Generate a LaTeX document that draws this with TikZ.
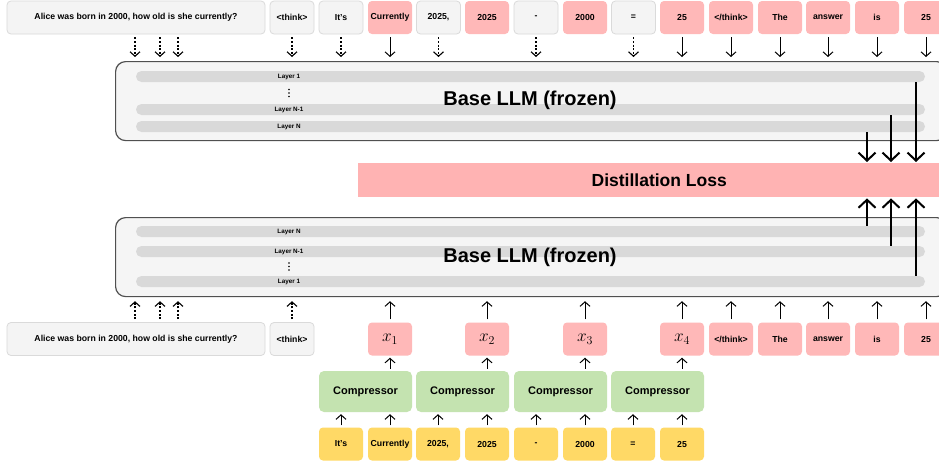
\documentclass[tikz,border=0pt]{standalone}
\usepackage[no-math]{fontspec}
\setmainfont{Liberation Sans}
\usetikzlibrary{positioning}
\usetikzlibrary{arrows.meta}

\definecolor{tokgray}{HTML}{F4F4F4}
\definecolor{tokedge}{HTML}{DADADA}
\definecolor{tokpink}{HTML}{FFB8B8}
\definecolor{tokyellow}{HTML}{FFD966}
\definecolor{compgreen}{HTML}{C4E3B0}
\definecolor{llmfill}{HTML}{F5F5F5}
\definecolor{llmedge}{HTML}{505050}
\definecolor{barfill}{HTML}{D9D9D9}
\definecolor{losspink}{HTML}{FFB3B3}

\tikzset{
	tok/.style={rounded corners=4pt, minimum width=44pt, minimum height=33pt, inner sep=0pt, font=\bfseries\fontsize{8.7}{10}\selectfont},
	greytok/.style={tok, fill=tokgray, draw=tokedge, line width=0.8pt},
	pinktok/.style={tok, fill=tokpink},
	seedtok/.style={tok, fill=tokyellow},
	xtok/.style={pinktok, font=\fontsize{17}{19}\selectfont},
	comp/.style={rounded corners=5pt, fill=compgreen, minimum width=93pt, minimum height=41pt, inner sep=0pt, font=\bfseries\fontsize{11}{13}\selectfont},
	llm/.style={rounded corners=10pt, fill=llmfill, draw=llmedge, line width=1.2pt, minimum width=831pt, minimum height=79pt, anchor=north west},
	layerbar/.style={rounded corners=5.5pt, fill=barfill, minimum width=789pt, minimum height=11pt, inner sep=0pt},
	layertxt/.style={inner sep=0pt, font=\bfseries\fontsize{6.3}{7}\selectfont},
	llmtxt/.style={font=\bfseries\fontsize{20}{24}\selectfont},
	arr/.style={->, line width=1pt},
	dasharr/.style={->, line width=1.1pt, dash pattern=on 2pt off 1.6pt},
	lossarr/.style={-{Straight Barb[length=8pt,width=17pt,line width=2pt]}, line width=2pt}
}

\begin{document}
\begin{tikzpicture}[x=1pt, y=-1pt, >={Straight Barb[length=4.5pt,width=10pt]}]
	\useasboundingbox (0,0) rectangle (939,463);
	\fill[white] (0,0) rectangle (939,463);
	\clip (0,0) rectangle (939,463);

	% teacher tokens
	\node[greytok, minimum width=258pt] (qA) at (136,17.5) {Alice was born in 2000, how old is she currently?};
	\node[greytok] (thA) at (292,17.5) {<think>};
	\foreach \n/\x/\s/\t in {a1/341/greytok/It's, a2/390/pinktok/Currently, a3/438.5/greytok/{2025,}, a4/487/pinktok/2025, a5/536/greytok/-, a6/585/pinktok/2000, a7/633.5/greytok/=, a8/682/pinktok/25, a9/731/pinktok/{</think>}, a10/780/pinktok/The, a11/828/pinktok/answer, a12/877/pinktok/is, a13/926/pinktok/25}
		\node[\s] (\n) at (\x,17.5) {\t};

	% teacher model
	\node[llm] (llmA) at (115,61) {};
	\node[layerbar] (lA1) at (530.5,76.5) {};
	\node[layerbar] (lAM) at (530.5,109.5) {};
	\node[layerbar] (lAN) at (530.5,126.5) {};
	\node[layertxt] (tA1) at (289,76.5) {Layer 1};
	\node[layertxt] (tAM) at (289,109.5) {Layer N-1};
	\node[layertxt] (tAN) at (289,126.5) {Layer N};
	\foreach \k in {-3.5,0,3.5}
		\fill (289,93+\k) circle (0.9pt);
	\node[llmtxt] (nA) at (530,100) {Base LLM (frozen)};

	\foreach \d in {-1,24,42}
		\draw[dasharr, shorten <=3pt, shorten >=4pt] ([xshift=\d pt]qA.south) -- ([xshift=\d pt]qA.south |- llmA.north);
	\foreach \n in {thA,a1,a3,a5,a7}
		\draw[dasharr, shorten <=3pt, shorten >=4pt] (\n.south) -- (\n.south |- llmA.north);
	\foreach \n in {a2,a8,a9,a10,a11,a12,a13}
		\draw[arr, shorten <=3pt, shorten >=4pt] (\n.south) -- (\n.south |- llmA.north);

	% loss
	\node[fill=losspink, minimum width=602pt, minimum height=34pt, anchor=north west, font=\bfseries\fontsize{17.5}{20}\selectfont] (loss) at (358,163) {Distillation Loss};

	% student model
	\node[llm] (llmB) at (115,217) {};
	\node[layerbar] (lBN) at (530.5,231.5) {};
	\node[layerbar] (lBM) at (530.5,251.5) {};
	\node[layerbar] (lB1) at (530.5,281.5) {};
	\node[layertxt] (tBN) at (289,231.5) {Layer N};
	\node[layertxt] (tBM) at (289,251.5) {Layer N-1};
	\node[layertxt] (tB1) at (289,281.5) {Layer 1};
	\foreach \k in {-3.5,0,3.5}
		\fill (289,266.5+\k) circle (0.9pt);
	\node[llmtxt] (nB) at (530,257) {Base LLM (frozen)};

	\coordinate (kN) at (867,0);
	\coordinate (kM) at (891,0);
	\coordinate (k1) at (916,0);
	\draw[lossarr, shorten >=1pt] (lAN.south -| kN) -- (loss.north -| kN);
	\draw[lossarr, shorten >=1pt] (lAM.south -| kM) -- (loss.north -| kM);
	\draw[lossarr, shorten >=1pt] (lA1.south -| k1) -- (loss.north -| k1);
	\draw[lossarr, shorten >=1pt] (lBN.north -| kN) -- (loss.south -| kN);
	\draw[lossarr, shorten >=1pt] (lBM.north -| kM) -- (loss.south -| kM);
	\draw[lossarr, shorten >=1pt] (lB1.north -| k1) -- (loss.south -| k1);

	% student tokens
	\node[greytok, minimum width=258pt] (qB) at (136,339) {Alice was born in 2000, how old is she currently?};
	\node[greytok] (thB) at (292,339) {<think>};
	\foreach \n/\x/\i in {x1/390/1, x2/487/2, x3/585/3, x4/682/4}
		\node[xtok] (\n) at (\x,339) {$x_\i$};
	\foreach \n/\x/\t in {b9/731/{</think>}, b10/780/The, b11/828/answer, b12/877/is, b13/926/25}
		\node[pinktok] (\n) at (\x,339) {\t};

	\foreach \d in {-1,24,42}
		\draw[dasharr, shorten <=3pt, shorten >=4pt] ([xshift=\d pt]qB.north) -- ([xshift=\d pt]qB.north |- llmB.south);
	\draw[dasharr, shorten <=3pt, shorten >=4pt] (thB.north) -- (thB.north |- llmB.south);
	\foreach \n in {x1,x2,x3,x4,b9,b10,b11,b12,b13}
		\draw[arr, shorten <=3pt, shorten >=4pt] (\n.north) -- (\n.north |- llmB.south);

	% compressors
	\foreach \n/\x in {c1/365.5, c2/462.5, c3/560.5, c4/657.5}
		\node[comp] (\n) at (\x,391.5) {Compressor};
	\foreach \n/\x/\t in {s1/341/It's, s2/390/Currently, s3/438/{2025,}, s4/487/2025, s5/536/-, s6/585/2000, s7/633/=, s8/682/25}
		\node[seedtok] (\n) at (\x,444) {\t};

	\foreach \s/\c in {s1/c1, s2/c1, s3/c2, s4/c2, s5/c3, s6/c3, s7/c4, s8/c4}
		\draw[arr, shorten <=2pt, shorten >=2pt] (\s.north) -- (\s.north |- \c.south);
	\foreach \c/\x in {c1/x1, c2/x2, c3/x3, c4/x4}
		\draw[arr, shorten <=2pt, shorten >=2pt] (\c.north -| \x) -- (\x.south);
\end{tikzpicture}
\end{document}
